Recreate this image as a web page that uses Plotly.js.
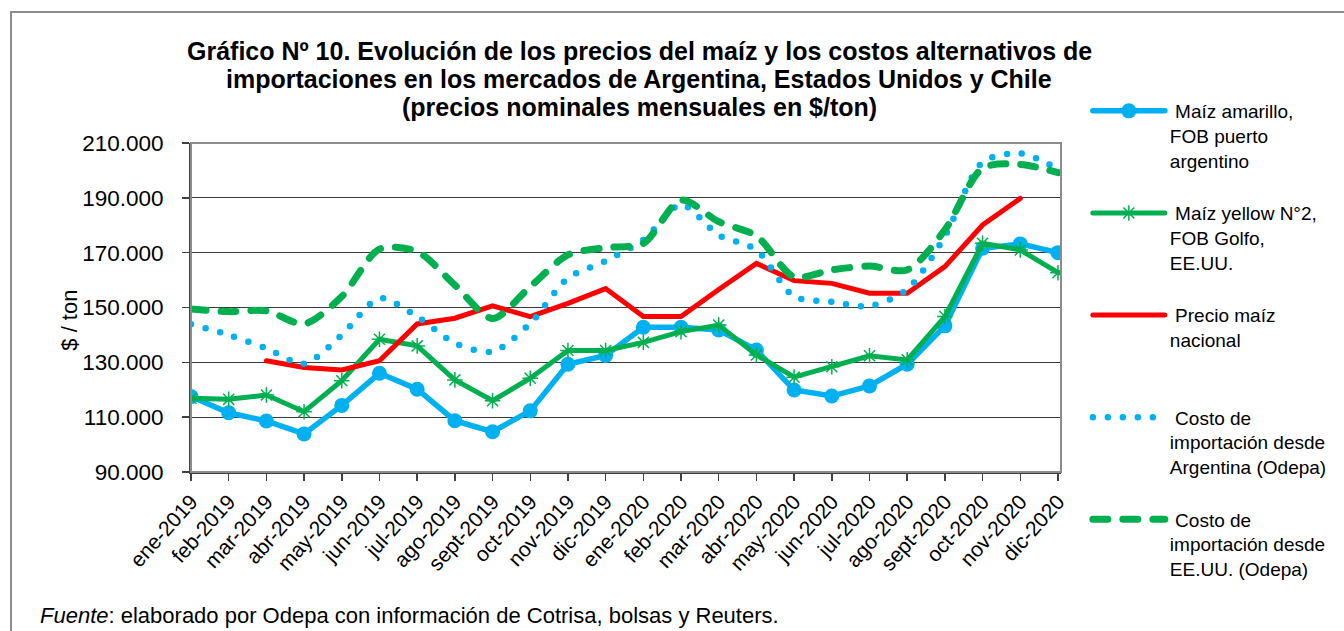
<!DOCTYPE html>
<html>
<head>
<meta charset="utf-8">
<script src="https://cdn.plot.ly/plotly-3.0.1.min.js"></script>
<style>
html,body{margin:0;padding:0;background:#fff;}
#chart{width:1344px;height:631px;}
path.js-line{stroke-linecap:round;}
</style>
</head>
<body>
<div id="chart"></div>
<script>
const months = ["ene-2019","feb-2019","mar-2019","abr-2019","may-2019","jun-2019","jul-2019","ago-2019","sept-2019","oct-2019","nov-2019","dic-2019",
"ene-2020","feb-2020","mar-2020","abr-2020","may-2020","jun-2020","jul-2020","ago-2020","sept-2020","oct-2020","nov-2020","dic-2020"];
const fobArgentina = [117500,111600,108600,103900,114300,126000,120200,108700,104700,112300,129300,132500,142800,142800,141800,134500,119900,117700,121400,129300,143300,171600,173200,170000];
const fobGolfo = [116900,116500,118100,112000,123300,138400,136000,123600,116000,124200,134300,134300,137300,141200,143600,132700,124600,128400,132400,130900,146700,173400,171000,162700];
const precioNacional = [null,null,130600,128100,127200,130600,144000,146100,150600,146700,151500,156900,146700,146700,156600,166100,159800,158800,155200,155200,164900,180100,189800,null];
const costoArgentina = [143900,140000,135100,129500,140000,153400,146700,137000,133900,144200,160700,167000,174600,187500,176400,171000,154000,152100,150500,156600,176000,203000,206200,200500];
const costoEEUU = [149500,148500,148800,144000,154000,171300,170400,158200,146000,157600,169200,171800,173400,189200,181300,176100,161200,163700,165100,163700,178300,200800,202200,199200];
const yTicks = [90000,110000,130000,150000,170000,190000,210000];

const titleLines = ["Gráfico Nº 10. Evolución de los precios del maíz y los costos alternativos de",
                    "importaciones en los mercados de Argentina, Estados Unidos y Chile",
                    "(precios nominales mensuales en $/ton)"];
const names = [" Maíz amarillo,<br>FOB puerto<br>argentino",
               " Maíz yellow N°2,<br>FOB Golfo,<br>EE.UU.",
               " Precio maíz<br>nacional<br>&nbsp;",
               " Costo de<br>importación desde<br>Argentina (Odepa)",
               " Costo de<br>importación desde<br>EE.UU. (Odepa)"];
const yTitle = "$ / ton";
const source = "<i>Fuente</i>: elaborado por Odepa con información de Cotrisa, bolsas y Reuters.";

const idx = months.map((m,i)=>i);
const blue = '#00B0F0', green = '#00B050', red = '#FF0000';
const FONT = 'Liberation Sans, Arial, sans-serif';

const traces = [
  {x: idx, y: fobArgentina, name: names[0], legendgroup:'a', mode:'lines+markers',
   line:{color:blue,width:5.5}, marker:{symbol:'circle',size:15,color:blue}},
  {x: idx, y: fobGolfo, name: names[1], legendgroup:'b', mode:'lines+markers',
   line:{color:green,width:5}, marker:{symbol:'asterisk-open',size:13,color:green,line:{color:green,width:1.5}}},
  {x: idx, y: precioNacional, name: names[2], legendgroup:'c', mode:'lines',
   line:{color:red,width:5}},
  {x: idx, y: costoArgentina, name: names[3], legendgroup:'d', mode:'lines',
   line:{color:blue,width:6.5,dash:'0px,15px',shape:'spline',smoothing:0.8}},
  {x: idx, y: costoEEUU, name: names[4], legendgroup:'e', mode:'lines',
   line:{color:green,width:7,dash:'15px,15px',shape:'spline',smoothing:0.8}}
];

const L = 191, R = 1066, T = 143, B = 472;
const W = R - L, H = B - T;
const px = v => (v - L) / W;
const py = v => (B - v) / H;

const titleY = [51, 79, 107];
const annotations = titleLines.map((t,i)=>({
  text: '<b>' + t + '</b>', xref:'paper', yref:'paper', x: px(642), y: py(titleY[i]),
  xanchor:'center', yanchor:'middle', showarrow:false,
  font:{size:25, family:FONT, color:'#000'}
}));
annotations.push(
  {text: yTitle, textangle: -90, xref:'paper', yref:'paper', x: px(68), y: py(320),
   xanchor:'center', yanchor:'middle', showarrow:false, font:{size:22, family:FONT}},
  {text: source, xref:'paper', yref:'paper', x: px(37), y: py(615), xanchor:'left', yanchor:'middle',
   showarrow:false, font:{size:22, family:FONT}}
);

const layout = {
  width: 1344, height: 631,
  margin: {l: L, r: 1344 - R, t: T, b: 631 - B, pad: 0},
  paper_bgcolor: '#fff', plot_bgcolor: '#fff',
  separators: ',.',
  font: {family: FONT, color: '#000', size: 19},
  showlegend: true,
  xaxis: {
    type: 'linear', range: [0, 23.08], tickvals: idx, ticktext: months,
    tickangle: -48, ticks: 'outside', ticklen: 7, tickcolor: '#404040', tickwidth: 1.5,
    showline: true, linecolor: '#404040', linewidth: 2,
    showgrid: false, zeroline: false,
    tickfont: {size: 21, family: FONT}
  },
  yaxis: {
    range: [90000, 210000], tickvals: yTicks, tickformat: ',.0f',
    ticks: 'outside', ticklen: 7, tickcolor: '#404040', tickwidth: 1.5,
    showline: true, linecolor: '#404040', linewidth: 2,
    showgrid: true, gridcolor: '#3a3a3a', gridwidth: 1, zeroline: false,
    ticklabelstandoff: 14,
    tickfont: {size: 22.5, family: FONT}
  },
  legend: {
    x: px(1093), xanchor: 'left', y: py(92), yanchor: 'top',
    bgcolor: 'rgba(0,0,0,0)', borderwidth: 0,
    itemwidth: 72, tracegroupgap: 25, valign: 'top', maxheight: 600,
    font: {size: 19, family: FONT},
    itemclick: false, itemdoubleclick: false
  },
  shapes: [
    {type:'rect', xref:'paper', yref:'paper', x0: 0, x1: 1, y0: 0, y1: 1,
     line:{color:'#8c8c8c', width:2}, fillcolor:'rgba(0,0,0,0)', layer:'above'},
    {type:'rect', xref:'paper', yref:'paper', x0: px(10), x1: px(1400), y0: py(700), y1: py(12),
     line:{color:'#8c8c8c', width:2}, fillcolor:'rgba(0,0,0,0)', layer:'below'}
  ],
  annotations: annotations
};

Plotly.newPlot('chart', traces, layout, {displayModeBar: false, staticPlot: true});
</script>
</body>
</html>
